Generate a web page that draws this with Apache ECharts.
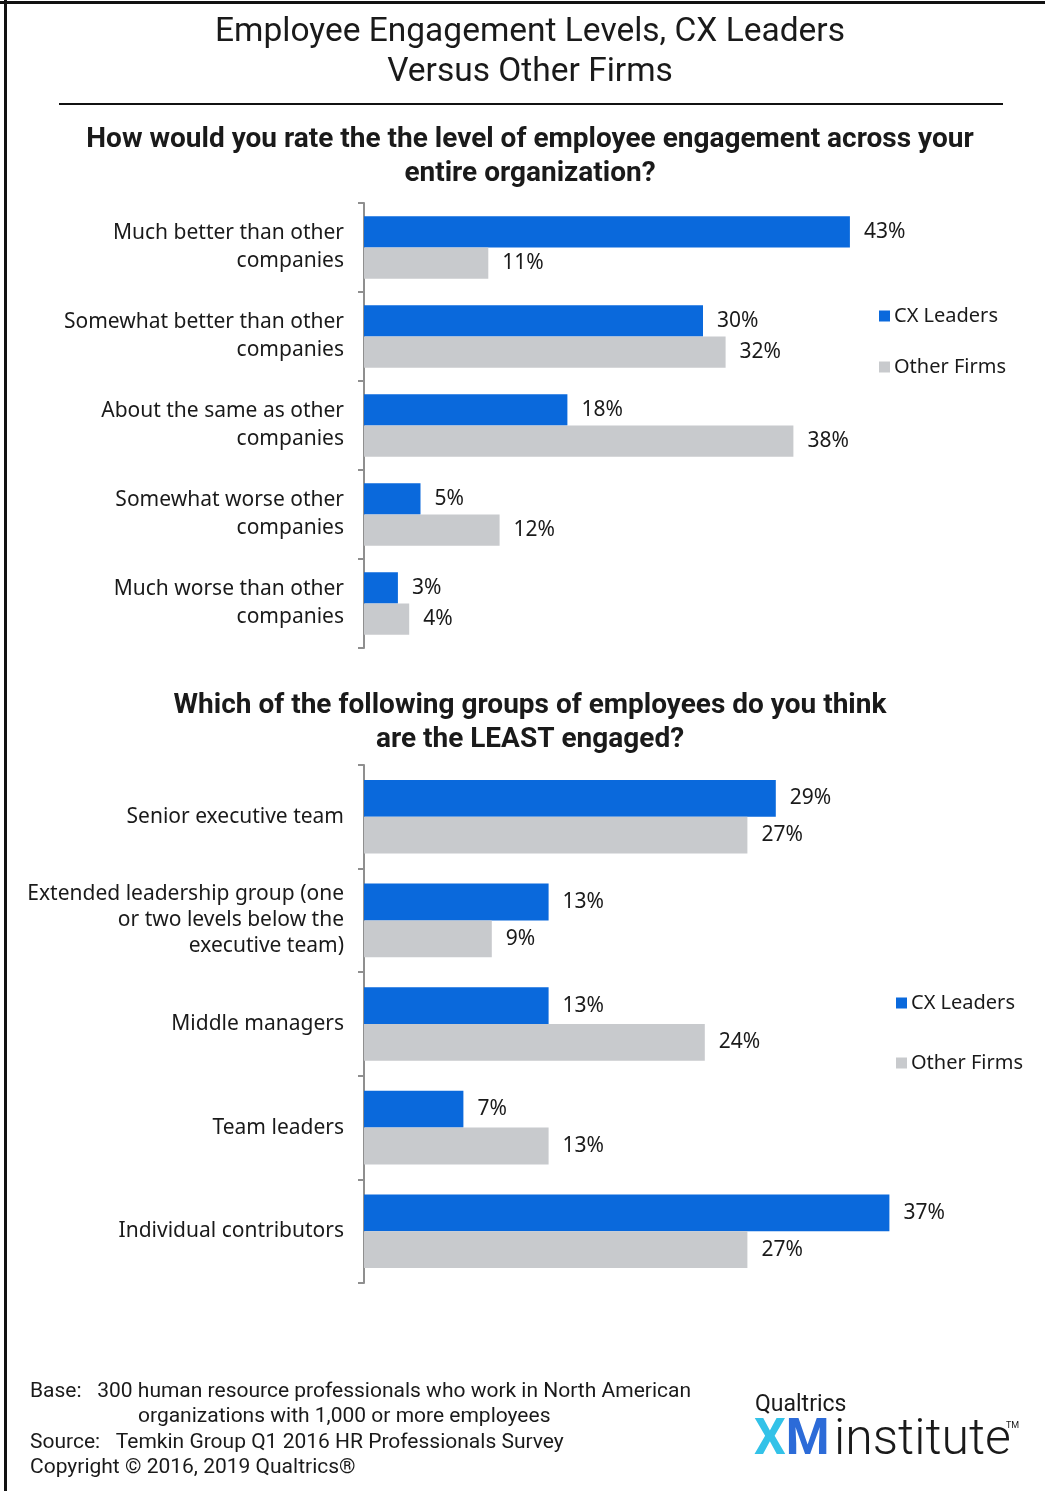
<!DOCTYPE html>
<html>
<head>
<meta charset="utf-8">
<script src="https://cdn.jsdelivr.net/npm/echarts@6/dist/echarts.min.js"></script>
<style>
  html, body { margin: 0; padding: 0; background: #ffffff; }
  #chart { width: 1045px; height: 1491px; }
</style>
</head>
<body>
<div id="chart"></div>
<script>
// Question 1: how employees are engaged versus other companies
var ratingCategories = [
  'Much better than other\ncompanies',
  'Somewhat better than other\ncompanies',
  'About the same as other\ncompanies',
  'Somewhat worse other\ncompanies',
  'Much worse than other\ncompanies'
];
var ratingCxLeaders = [43, 30, 18, 5, 3];
var ratingOtherFirms = [11, 32, 38, 12, 4];

// Question 2: which employee groups are least engaged
var groupCategories = [
  'Senior executive team',
  'Extended leadership group (one\nor two levels below the\nexecutive team)',
  'Middle managers',
  'Team leaders',
  'Individual contributors'
];
var groupCxLeaders = [29, 13, 13, 7, 37];
var groupOtherFirms = [27, 9, 24, 13, 27];

var seriesNames = ['CX Leaders', 'Other Firms'];

var BLUE = '#0a69dc';
var GREY = '#c8cacd';
var INK = '#1a1a1a';
var AXIS = '#8f8f8f';
var SANS = '"Noto Sans", Roboto, sans-serif';
var COND = 'Roboto, "Noto Sans", sans-serif';

var chart = echarts.init(document.getElementById('chart'), null, { renderer: 'canvas' });

function categoryAxis(gridIndex, data, lineHeight) {
  return {
    type: 'category',
    gridIndex: gridIndex,
    data: data,
    inverse: true,
    axisLine: { show: true, lineStyle: { color: AXIS, width: 2 } },
    axisTick: { show: true, length: 6, lineStyle: { color: AXIS, width: 2 } },
    axisLabel: {
      color: INK, fontSize: 21, fontFamily: SANS, lineHeight: lineHeight,
      margin: 20, align: 'right'
    }
  };
}

function valueAxis(gridIndex, max) {
  return {
    type: 'value', gridIndex: gridIndex, min: 0, max: max,
    show: false, splitLine: { show: false }
  };
}

function barSeries(name, axisIndex, data, color, gapPct) {
  return {
    type: 'bar',
    name: name,
    xAxisIndex: axisIndex,
    yAxisIndex: axisIndex,
    data: data,
    barGap: '0%',
    barCategoryGap: gapPct,
    itemStyle: { color: color },
    label: {
      show: true, position: 'right', distance: 14,
      formatter: '{c}%', color: INK, fontSize: 21, fontFamily: SANS
    }
  };
}

function legendAt(left, top, gap) {
  return {
    orient: 'vertical', left: left, top: top,
    data: seriesNames,
    icon: 'rect', itemWidth: 11, itemHeight: 11, itemGap: gap,
    selectedMode: false,
    textStyle: { color: INK, fontSize: 20, fontFamily: SANS, padding: [0, 0, 0, -1] }
  };
}

function centeredText(lines, y, size, weight, family, lineGap) {
  return lines.map(function (t, i) {
    return {
      type: 'text', x: 530, y: y + i * lineGap,
      style: {
        text: t, fill: INK, font: weight + ' ' + size + 'px ' + family,
        textAlign: 'center', textVerticalAlign: 'middle'
      }
    };
  });
}

function plainText(t, x, y, size, weight, family, fill) {
  return {
    type: 'text', x: x, y: y,
    style: {
      text: t, fill: fill || INK, font: weight + ' ' + size + 'px ' + family,
      textAlign: 'left', textVerticalAlign: 'middle'
    }
  };
}

var graphics = []
  // frame lines along the top and the left edge, plus the rule under the title
  .concat([
    { type: 'rect', shape: { x: 0, y: 1, width: 1045, height: 3 }, style: { fill: '#111' } },
    { type: 'rect', shape: { x: 4, y: 0, width: 3, height: 1491 }, style: { fill: '#111' } },
    { type: 'rect', shape: { x: 59, y: 103, width: 944, height: 2 }, style: { fill: '#111' } }
  ])
  .concat(centeredText(['Employee Engagement Levels, CX Leaders', 'Versus Other Firms'], 33, 33.5, 'normal', COND, 40))
  .concat(centeredText(['How would you rate the the level of employee engagement across your', 'entire organization?'], 140, 28, 'bold', COND, 34))
  .concat(centeredText(['Which of the following groups of employees do you think', 'are the LEAST engaged?'], 706, 28, 'bold', COND, 34))
  .concat([
    plainText('Base:   300 human resource professionals who work in North American', 30, 1392, 21, 'normal', COND),
    plainText('organizations with 1,000 or more employees', 138, 1417, 21, 'normal', COND),
    plainText('Source:   Temkin Group Q1 2016 HR Professionals Survey', 30, 1443, 21, 'normal', COND),
    plainText('Copyright \u00a9 2016, 2019 Qualtrics\u00ae', 30, 1468, 21, 'normal', COND),
    // Qualtrics XM institute wordmark
    plainText('Qualtrics', 755, 1405, 23, 'normal', COND),
    {
      type: 'text', x: 754, y: 1441,
      style: {
        text: '{x|X}{m|M}', textAlign: 'left', textVerticalAlign: 'middle',
        font: 'bold 50px ' + COND,
        rich: {
          x: { fill: '#33c2e8', font: 'bold 50px ' + COND },
          m: { fill: '#2c6bd8', font: 'bold 50px ' + COND }
        }
      }
    },
    plainText('institute', 834, 1441, 50, '300', COND),
    plainText('TM', 1006, 1426, 9, 'normal', COND)
  ]);

var option = {
  backgroundColor: '#ffffff',
  animation: false,
  legend: [legendAt(874, 301, 31), legendAt(891, 988, 40)],
  grid: [
    { left: 364, top: 203, width: 678, height: 445, containLabel: false },
    { left: 364, top: 765, width: 639, height: 518, containLabel: false }
  ],
  xAxis: [valueAxis(0, 60), valueAxis(1, 45)],
  yAxis: [categoryAxis(0, ratingCategories, 28), categoryAxis(1, groupCategories, 26)],
  series: [
    barSeries(seriesNames[0], 0, ratingCxLeaders, BLUE, '30%'),
    barSeries(seriesNames[1], 0, ratingOtherFirms, GREY, '30%'),
    barSeries(seriesNames[0], 1, groupCxLeaders, BLUE, '29%'),
    barSeries(seriesNames[1], 1, groupOtherFirms, GREY, '29%')
  ],
  graphic: graphics
};

chart.setOption(option);
</script>
</body>
</html>
